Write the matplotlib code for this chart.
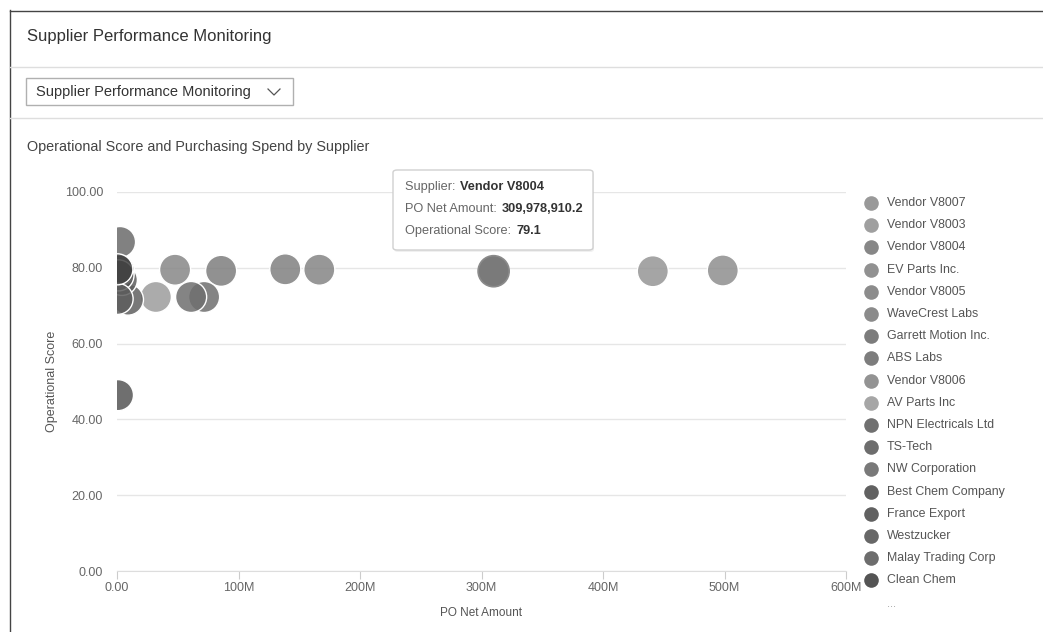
import matplotlib
matplotlib.use("Agg")
import matplotlib.pyplot as plt
from matplotlib.colors import to_rgba
from matplotlib.patches import Rectangle, FancyBboxPatch
from matplotlib.lines import Line2D
from matplotlib.text import Annotation
from matplotlib.ticker import FuncFormatter

plt.rcParams['font.family'] = ['Liberation Sans', 'DejaVu Sans']

# ---------------- data ----------------
suppliers = ["Vendor V8007", "Vendor V8003", "Vendor V8004", "EV Parts Inc.",
             "Vendor V8005", "WaveCrest Labs", "Garrett Motion Inc.", "ABS Labs",
             "Vendor V8006", "AV Parts Inc", "NPN Electricals Ltd", "TS-Tech",
             "NW Corporation", "Best Chem Company", "France Export", "Westzucker",
             "Malay Trading Corp", "Clean Chem"]
po_net_amount = [498.6e6, 441.0e6, 309978910.2, 166.5e6,
                 138.5e6, 85.7e6, 71.7e6, 61.0e6,
                 47.8e6, 32.0e6, 9.0e6, 4.0e6,
                 2.5e6, 1.5e6, 1.2e6, 0.8e6,
                 0.5e6, 0.3e6]
operational_score = [79.3, 79.1, 79.1, 79.5,
                     79.6, 79.2, 72.3, 72.3,
                     79.5, 72.3, 71.6, 76.8,
                     86.8, 79.3, 78.0, 46.4,
                     71.8, 79.6]
colors = ["#8e8e8e", "#959595", "#7a7a7a", "#858585",
          "#808080", "#7e7e7e", "#6e6e6e", "#6f6f6f",
          "#878787", "#9c9c9c", "#606060", "#5d5d5d",
          "#6b6b6b", "#505050", "#505050", "#565656",
          "#5d5d5d", "#414141"]
x_ticks = [0, 100e6, 200e6, 300e6, 400e6, 500e6, 600e6]
y_ticks = [0, 20, 40, 60, 80, 100]

highlighted = "Vendor V8004"
tooltip_amount = "309,978,910.2"
tooltip_score = "79.1"

# ---------------- figure ----------------
W, H = 1043, 632
fig = plt.figure(figsize=(W / 100, H / 100), dpi=100)

def fx(px):
    return px / W

def fy(py):
    return 1 - py / H

# outer frame and separators
fig.add_artist(Line2D([fx(9.5), fx(9.5)], [fy(10), 0.0], color="#444444", lw=1))
fig.add_artist(Line2D([fx(9.5), 1.0], [fy(10.5), fy(10.5)], color="#444444", lw=1))
fig.add_artist(Line2D([fx(10), 1.0], [fy(67), fy(67)], color="#dedede", lw=1))
fig.add_artist(Line2D([fx(10), 1.0], [fy(118), fy(118)], color="#dedede", lw=1))

fig.text(fx(27), fy(37), "Supplier Performance Monitoring", fontsize=12,
         color="#333333", va="center", ha="left")

# dropdown
fig.add_artist(Rectangle((fx(26), fy(105)), fx(293) - fx(26), fy(78) - fy(105),
                         transform=fig.transFigure, fill=False, edgecolor="#b0b0b0", lw=1))
fig.text(fx(36), fy(92), "Supplier Performance Monitoring", fontsize=10.5,
         color="#333333", va="center", ha="left")
fig.add_artist(Line2D([fx(268), fx(274), fx(280)], [fy(89), fy(95), fy(89)],
                      color="#555555", lw=0.9))

fig.text(fx(27), fy(147), "Operational Score and Purchasing Spend by Supplier",
         fontsize=10.4, color="#444444", va="center", ha="left")

# axes
ax = fig.add_axes([fx(117), fy(571), fx(846) - fx(117), fy(192) - fy(571)])
face = [to_rgba(c, 1.0 if n == highlighted else 0.85) for c, n in zip(colors, suppliers)]
edge = ["#8a8a8a" if n == highlighted else "white" for n in suppliers]
ax.scatter(po_net_amount, operational_score,
           s=[500.0] * len(suppliers), c=face,
           edgecolors=edge, linewidths=[1.2 if n == highlighted else 1.0 for n in suppliers],
           zorder=3)

ax.set_xlim(0, 600e6)
ax.set_ylim(0, 100)
ax.set_xticks(x_ticks)
ax.set_yticks(y_ticks)

def xfmt(v, pos):
    return "0.00" if v == 0 else f"{int(v / 1e6)}M"

ax.xaxis.set_major_formatter(FuncFormatter(xfmt))
ax.yaxis.set_major_formatter(FuncFormatter(lambda v, p: f"{v:.2f}"))
ax.grid(axis="y", color="#e6e6e6", lw=1, zorder=0)
for s in ["top", "right", "left"]:
    ax.spines[s].set_visible(False)
ax.spines["bottom"].set_color("#dddddd")
ax.tick_params(axis="y", length=0, pad=10, labelsize=9, labelcolor="#666666")
ax.tick_params(axis="x", length=6, color="#cccccc", pad=2, labelsize=9,
               labelcolor="#666666")
ax.set_xlabel("PO Net Amount", fontsize=8.5, color="#555555", labelpad=9)
ax.set_ylabel("Operational Score", fontsize=9, color="#555555", labelpad=5)

# tooltip
tip = FancyBboxPatch((fx(393), fy(250)), fx(593) - fx(393), fy(170) - fy(250),
                     boxstyle="round,pad=0,rounding_size=0.004",
                     transform=fig.transFigure, facecolor="white",
                     edgecolor="#d0d0d0", lw=1, zorder=10)
shadow = FancyBboxPatch((fx(394), fy(252)), fx(593) - fx(393), fy(170) - fy(250),
                        boxstyle="round,pad=0,rounding_size=0.004",
                        transform=fig.transFigure, facecolor="#000000", alpha=0.06,
                        edgecolor="none", zorder=9)
fig.add_artist(shadow)
fig.add_artist(tip)
tip_rows = [("Supplier: ", highlighted, 187),
            ("PO Net Amount: ", tooltip_amount, 209),
            ("Operational Score: ", tooltip_score, 231)]
for lab, val, py in tip_rows:
    t = fig.text(fx(405), fy(py), lab, fontsize=9.2, color="#666666",
                 va="center", ha="left", zorder=11)
    ann = Annotation(val, xy=(1, 0.5), xycoords=t, xytext=(1, 0),
                     textcoords="offset points", fontsize=9.2, fontweight="bold",
                     color="#333333", va="center", ha="left", zorder=12,
                     annotation_clip=False)
    fig.add_artist(ann)

# legend
leg_y0 = 203
leg_dy = 22.2
for i, name in enumerate(suppliers):
    py = leg_y0 + i * leg_dy
    fig.add_artist(Line2D([fx(871)], [fy(py)], marker="o", markersize=10.5,
                          color=colors[i], markeredgecolor="none", alpha=0.9))
    fig.text(fx(887), fy(py), name, fontsize=8.9, color="#555555",
             va="center", ha="left")
fig.text(fx(887), fy(leg_y0 + len(suppliers) * leg_dy + 1), "...", fontsize=8,
         color="#999999", va="center", ha="left")

fig.savefig("out.png", dpi=100)
